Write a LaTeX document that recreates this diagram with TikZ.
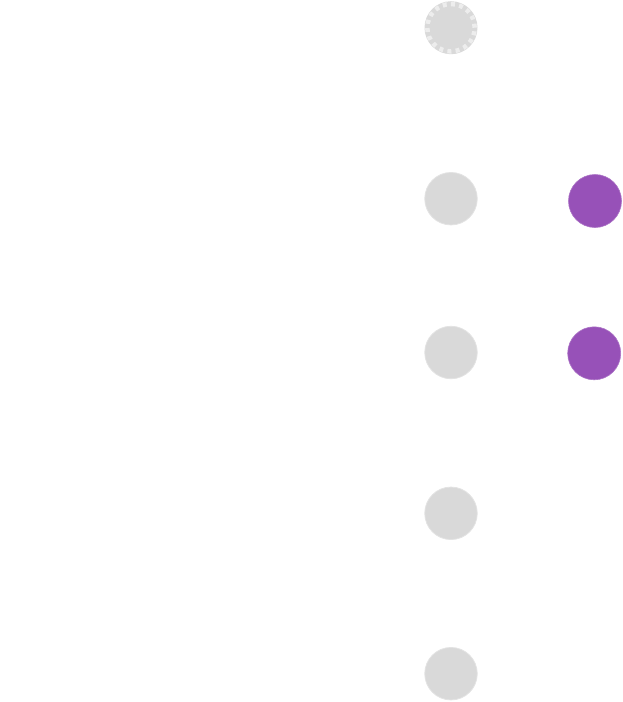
\documentclass[tikz,border=0pt]{standalone}
\definecolor{dotgray}{HTML}{D9D9D9}
\definecolor{rimgray}{HTML}{E3E3E3}
\definecolor{dashgray}{HTML}{EDEDED}
\definecolor{purp}{HTML}{9751B8}
\begin{document}
\begin{tikzpicture}[x=1pt,y=-1pt,
  graydot/.style={circle,fill=dotgray,draw=rimgray,line width=0.8pt,minimum size=52.5pt,inner sep=0pt},
  purpledot/.style={circle,fill=purp,draw=purp!80!white,line width=0.6pt,minimum size=53pt,inner sep=0pt},
  dashrim/.style={draw=dashgray,line width=4.5pt,dash pattern=on 4pt off 4.3pt}]
\useasboundingbox (0,0) rectangle (623,702);
\node[circle,fill=dotgray,minimum size=53pt,inner sep=0pt] (g0) at (451,27.7) {};
\path[dashrim] (g0.center) circle[radius=23.7pt];
\node[graydot] (g1) at (451,198.7) {};
\node[graydot] (g2) at (451,352.5) {};
\node[graydot] (g3) at (451,513.3) {};
\node[graydot] (g4) at (451,673.7) {};
\node[purpledot] (p1) at (595,201) {};
\node[purpledot] (p2) at (594.2,353.3) {};
\end{tikzpicture}
\end{document}
